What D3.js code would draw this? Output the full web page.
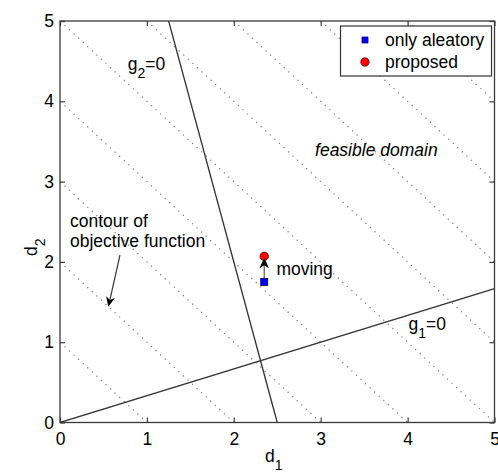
<!DOCTYPE html>
<html>
<head>
<meta charset="utf-8">
<script src="https://cdn.jsdelivr.net/npm/d3@7"></script>
<style>
  html, body { margin: 0; padding: 0; background: #fff; }
  svg { display: block; font-family: "Liberation Sans", Arial, sans-serif; }
</style>
</head>
<body>
<div id="chart"></div>
<script>
// Axis ticks
const xTicks = [0, 1, 2, 3, 4, 5];
const yTicks = [0, 1, 2, 3, 4, 5];

// Objective contour levels: d1 + d2 = c
const contourLevels = [1, 2, 3, 4, 5, 6, 7, 8, 9];

// Constraint boundaries (end points in design space)
const g1Line = [[0, 0], [5, 5 / 3]];      // g1 = 0 : d2 = d1 / 3
const g2Line = [[1.25, 5], [2.5, 0]];     // g2 = 0 : d1 = 2.5 - d2 / 4

// Design points
const seriesNames = ["only aleatory", "proposed"];
const seriesD1 = [2.35, 2.35];
const seriesD2 = [1.75, 2.07];

const W = 498, H = 473;
const x = d3.scaleLinear().domain([0, 5]).range([60, 494.5]);
const y = d3.scaleLinear().domain([0, 5]).range([422.5, 21]);

const svg = d3.select("#chart").append("svg")
  .attr("width", W).attr("height", H);

const fs = 17.5;
const axisColor = "#3a3a3a";

svg.append("defs").append("clipPath").attr("id", "plotClip")
  .append("rect").attr("x", x(0)).attr("y", y(5))
  .attr("width", x(5) - x(0)).attr("height", y(0) - y(5));

const plot = svg.append("g").attr("clip-path", "url(#plotClip)");

// Contour lines of the objective, clipped to the [0,5] square
contourLevels.forEach(c => {
  const a = [Math.max(0, c - 5), Math.min(5, c)];
  const p0 = [a[0], c - a[0]], p1 = [a[1], c - a[1]];
  plot.append("line")
    .attr("x1", x(p0[0])).attr("y1", y(p0[1]))
    .attr("x2", x(p1[0])).attr("y2", y(p1[1]))
    .attr("stroke", "#777").attr("stroke-width", 1.2)
    .attr("stroke-dasharray", "1.2,5").attr("stroke-linecap", "butt");
});

// Constraint lines
[g1Line, g2Line].forEach(seg => {
  plot.append("line")
    .attr("x1", x(seg[0][0])).attr("y1", y(seg[0][1]))
    .attr("x2", x(seg[1][0])).attr("y2", y(seg[1][1]))
    .attr("stroke", "#333").attr("stroke-width", 1.3);
});

// Frame and ticks (box on, ticks inward)
svg.append("rect")
  .attr("x", x(0)).attr("y", y(5))
  .attr("width", x(5) - x(0)).attr("height", y(0) - y(5))
  .attr("fill", "none").attr("stroke", axisColor).attr("stroke-width", 1.3);

const tl = 5;
const axX = d3.axisBottom(x).tickValues(xTicks).tickFormat(d3.format("d"))
  .tickSizeInner(-tl).tickSizeOuter(0).tickPadding(10);
const axY = d3.axisLeft(y).tickValues(yTicks).tickFormat(d3.format("d"))
  .tickSizeInner(-tl).tickSizeOuter(0).tickPadding(6);
const axXTop = d3.axisTop(x).tickValues(xTicks).tickFormat("")
  .tickSizeInner(-tl).tickSizeOuter(0);
const axYRight = d3.axisRight(y).tickValues(yTicks).tickFormat("")
  .tickSizeInner(-tl).tickSizeOuter(0);

function styleAxis(g) {
  g.select(".domain").remove();
  g.selectAll(".tick line").attr("stroke", axisColor).attr("stroke-width", 1.2);
  g.selectAll(".tick text").attr("fill", "#000").attr("font-size", fs)
    .attr("font-family", "Liberation Sans, Arial, sans-serif");
}
svg.append("g").attr("transform", `translate(0,${y(0)})`).call(axX).call(styleAxis);
svg.append("g").attr("transform", `translate(${x(0)},0)`).call(axY).call(styleAxis);
svg.append("g").attr("transform", `translate(0,${y(5)})`).call(axXTop).call(styleAxis);
svg.append("g").attr("transform", `translate(${x(5)},0)`).call(axYRight).call(styleAxis);

// Text helper with optional subscript
function subText(px, py, main, sub, rest, opts = {}) {
  const t = svg.append("text").attr("x", px).attr("y", py)
    .attr("font-size", fs).attr("fill", "#000");
  if (opts.rotate) t.attr("transform", `rotate(-90,${px},${py})`);
  if (opts.anchor) t.attr("text-anchor", opts.anchor);
  t.append("tspan").text(main);
  t.append("tspan").attr("font-size", 14).attr("dy", 8).text(sub);
  if (rest) t.append("tspan").attr("dy", -8).text(rest);
  return t;
}

// Axis labels
subText(265, 462, "d", "1", null);
subText(37, 256, "d", "2", null, { rotate: true });

// Constraint labels
subText(x(0.78), y(4.39), "g", "2", "=0");
subText(x(4.01), y(1.15), "g", "1", "=0");

// Annotations
svg.append("text").attr("x", x(2.935)).attr("y", y(3.32))
  .attr("font-size", fs).attr("font-style", "italic").text("feasible domain");

svg.append("text").attr("x", x(0.115)).attr("y", y(2.44))
  .attr("font-size", fs).text("contour of");
svg.append("text").attr("x", x(0.115)).attr("y", y(2.19))
  .attr("font-size", fs).text("objective function");

svg.append("text").attr("x", x(2.49)).attr("y", y(1.84))
  .attr("font-size", fs).text("moving");

// Arrow drawing: shaft plus filled head at the end point
function arrow(p0, p1, color) {
  const x0 = x(p0[0]), y0 = y(p0[1]), x1 = x(p1[0]), y1 = y(p1[1]);
  const ang = Math.atan2(y1 - y0, x1 - x0);
  const L = 10, Wd = 4.5, back = 7;
  const ux = Math.cos(ang), uy = Math.sin(ang);
  const nx = -uy, ny = ux;
  svg.append("line")
    .attr("x1", x0).attr("y1", y0)
    .attr("x2", x1 - ux * back).attr("y2", y1 - uy * back)
    .attr("stroke", color).attr("stroke-width", 1.2);
  const bx = x1 - ux * L, by = y1 - uy * L;
  const mx = x1 - ux * back, my = y1 - uy * back;
  svg.append("path")
    .attr("d", `M${x1},${y1} L${bx + nx * Wd},${by + ny * Wd} L${mx},${my} L${bx - nx * Wd},${by - ny * Wd} Z`)
    .attr("fill", "#000");
}

arrow([0.69, 2.085], [0.556, 1.44], "#333");

// Design points with connecting move arrow
const pA = [seriesD1[0], seriesD2[0]], pP = [seriesD1[1], seriesD2[1]];
arrow(pA, [pP[0], pP[1] - 0.02], "#555");

svg.append("rect")
  .attr("x", x(pA[0]) - 3.5).attr("y", y(pA[1]) - 3.5)
  .attr("width", 7).attr("height", 7)
  .attr("fill", "#0000ff").attr("stroke", "#00006a").attr("stroke-width", 0.8);
svg.append("circle")
  .attr("cx", x(pP[0])).attr("cy", y(pP[1])).attr("r", 4.2)
  .attr("fill", "#ff0000").attr("stroke", "#5a0000").attr("stroke-width", 0.8);
// redraw head over the circle so it stays visible
(function () {
  const x1 = x(pP[0]), y1 = y(pP[1] - 0.02);
  svg.append("path")
    .attr("d", `M${x1},${y1} L${x1 - 4.5},${y1 + 10} L${x1},${y1 + 7} L${x1 + 4.5},${y1 + 10} Z`)
    .attr("fill", "#000");
})();

// Legend
const lg = svg.append("g");
lg.append("rect").attr("x", 340.5).attr("y", 26).attr("width", 151).attr("height", 50)
  .attr("fill", "#fff").attr("stroke", "#333").attr("stroke-width", 1.2);
lg.append("rect").attr("x", 365 - 3).attr("y", 40 - 3).attr("width", 6).attr("height", 6)
  .attr("fill", "#0000ff").attr("stroke", "#00006a").attr("stroke-width", 0.8);
lg.append("circle").attr("cx", 365).attr("cy", 62).attr("r", 4.2)
  .attr("fill", "#ff0000").attr("stroke", "#5a0000").attr("stroke-width", 0.8);
lg.append("text").attr("x", 385).attr("y", 46).attr("font-size", fs).text(seriesNames[0]);
lg.append("text").attr("x", 385).attr("y", 68).attr("font-size", fs).text(seriesNames[1]);
</script>
</body>
</html>
